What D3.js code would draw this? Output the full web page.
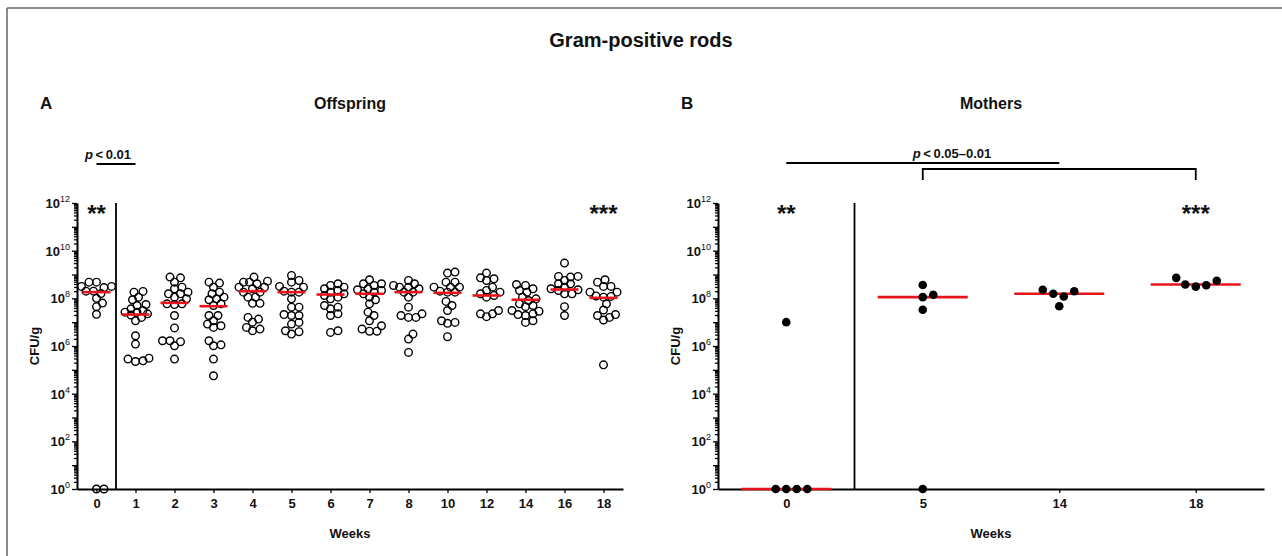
<!DOCTYPE html>
<html>
<head>
<meta charset="utf-8">
<script src="https://cdn.jsdelivr.net/npm/d3@7"></script>
<style>
  body { margin: 0; background: #fff; }
  svg { display: block; font-family: "Liberation Sans", Arial, sans-serif; }
  .axis path, .axis line { stroke: #000; }
  .axis path { stroke-width: 2; }
  .axis line { stroke-width: 1.3; }
  .axis text { font-size: 13px; font-weight: bold; fill: #111; }
  .lbl { font-weight: bold; fill: #111; }
</style>
</head>
<body>
<div id="chart"></div>
<script>
var w = 1282;
var h = 556;

// log10(CFU/g), 0 = no growth (plotted on the axis)
var weeksA = ["0", "1", "2", "3", "4", "5", "6", "7", "8", "10", "12", "14", "16", "18"];
var offspring = [
    [8.68, 8.68, 8.5, 8.5, 8.45, 8.3, 8.3, 8.2, 8.0, 7.8, 7.65, 7.33, 0, 0],
    [8.29, 8.26, 8.05, 7.94, 7.74, 7.7, 7.56, 7.49, 7.42, 7.42, 7.35, 7.3, 7.2, 7.06, 6.43, 6.08, 5.49, 5.45, 5.38, 5.35],
    [8.89, 8.86, 8.68, 8.47, 8.4, 8.26, 8.19, 8.19, 8.05, 7.98, 7.77, 7.77, 7.74, 7.28, 6.76, 6.22, 6.22, 6.18, 6.01, 5.45],
    [8.68, 8.64, 8.47, 8.26, 8.19, 8.05, 7.98, 7.94, 7.77, 7.7, 7.28, 7.28, 7.06, 6.92, 6.85, 6.78, 6.22, 6.05, 6.01, 5.45, 4.75],
    [8.89, 8.72, 8.68, 8.68, 8.61, 8.47, 8.47, 8.4, 8.26, 8.26, 8.05, 8.05, 7.79, 7.79, 7.2, 7.13, 7.0, 6.78, 6.71, 6.64],
    [8.96, 8.75, 8.68, 8.5, 8.47, 8.3, 8.26, 8.26, 7.98, 7.63, 7.63, 7.32, 7.28, 7.28, 6.99, 6.92, 6.64, 6.6, 6.5],
    [8.61, 8.54, 8.47, 8.4, 8.33, 8.26, 8.19, 8.12, 8.05, 7.98, 7.7, 7.63, 7.56, 7.35, 7.28, 6.64, 6.57],
    [8.78, 8.61, 8.61, 8.54, 8.4, 8.36, 8.33, 8.26, 8.19, 8.05, 7.94, 7.77, 7.42, 7.28, 7.06, 6.85, 6.71, 6.62, 6.62],
    [8.75, 8.61, 8.54, 8.47, 8.47, 8.4, 8.26, 8.26, 8.05, 7.63, 7.35, 7.28, 7.2, 7.2, 6.5, 6.29, 5.73],
    [9.1, 9.06, 8.68, 8.68, 8.47, 8.47, 8.47, 8.3, 8.26, 8.26, 7.87, 7.7, 7.49, 7.06, 6.99, 6.95, 6.39],
    [9.06, 8.86, 8.82, 8.75, 8.47, 8.33, 8.26, 8.19, 8.12, 8.05, 7.49, 7.35, 7.35, 7.23],
    [8.58, 8.54, 8.4, 8.33, 8.26, 8.05, 7.98, 7.91, 7.77, 7.7, 7.65, 7.49, 7.46, 7.35, 7.32, 7.28, 7.06, 6.99],
    [9.48, 8.92, 8.92, 8.89, 8.75, 8.61, 8.61, 8.47, 8.4, 8.36, 8.33, 8.19, 8.19, 7.65, 7.28],
    [8.78, 8.68, 8.5, 8.5, 8.26, 8.26, 8.1, 8.08, 8.05, 7.77, 7.51, 7.32, 7.28, 7.2, 7.09, 5.21]
];
var mediansA = [8.26, 7.32, 7.81, 7.67, 8.30, 8.26, 8.16, 8.19, 8.26, 8.23, 8.12, 7.94, 8.37, 8.02];

var weeksB = ["0", "5", "14", "18"];
var mothers = [
    [7.0, 0, 0, 0, 0],
    [8.56, 8.15, 8.05, 7.52, 0],
    [8.36, 8.3, 8.19, 8.08, 7.67],
    [8.86, 8.74, 8.58, 8.55, 8.49]
];
var mediansB = [0, 8.05, 8.19, 8.58];

var yTickExp = [0, 2, 4, 6, 8, 10, 12];

var svg = d3.select("#chart").append("svg").attr("width", w).attr("height", h);

// frame of the figure
svg.append("line").attr("x1", 7).attr("y1", 8).attr("x2", w).attr("y2", 8)
    .attr("stroke", "#666").attr("stroke-width", 1.5);
svg.append("line").attr("x1", 7).attr("y1", 8).attr("x2", 7).attr("y2", h)
    .attr("stroke", "#666").attr("stroke-width", 1.5);

svg.append("text").attr("class", "lbl").attr("x", 641).attr("y", 47)
    .attr("text-anchor", "middle").style("font-size", "20px").text("Gram-positive rods");

var yScale = d3.scaleLog().domain([1, 1e12]).range([489, 203]);

// beeswarm kept inside its column: nearest free spot, else the least crowded one
function swarm(vals, cx, dist, maxOff) {
    var pts = vals.map(function (v) { return { v: v, y: yScale(Math.pow(10, v)) }; });
    pts.sort(function (a, b) { return b.y - a.y; });
    var offs = [0];
    for (var k = 1; k * 1.5 <= maxOff; k++) offs.push(k * 1.5, -k * 1.5);
    var placed = [];
    pts.forEach(function (p) {
        var best = null, bestD = -1;
        for (var j = 0; j < offs.length; j++) {
            var x = cx + offs[j];
            var dmin = Infinity;
            placed.forEach(function (q) {
                var dx = q.x - x, dy = q.y - p.y;
                dmin = Math.min(dmin, Math.sqrt(dx * dx + dy * dy));
            });
            if (dmin >= dist) { best = x; break; }
            if (dmin > bestD) { bestD = dmin; best = x; }
        }
        p.x = best;
        placed.push(p);
    });
    return placed;
}

function panel(opt) {
    var g = svg.append("g");
    var xScale = d3.scalePoint().domain(opt.weeks).range([opt.x0, opt.x1]).padding(0.5);

    // minor log ticks
    var minor = [];
    for (var d = 0; d < 12; d++) {
        for (var k = 2; k <= 9; k++) minor.push(k * Math.pow(10, d));
    }
    g.append("g").attr("class", "axis").attr("transform", "translate(" + opt.x0 + ",0)")
        .call(d3.axisLeft(yScale).tickValues(minor).tickSize(3).tickSizeOuter(0).tickFormat(""))
        .call(function (s) { s.select(".domain").remove(); s.selectAll("line").attr("stroke-width", 1); });

    var yAxis = d3.axisLeft(yScale)
        .tickValues(d3.range(0, 13).map(function (e) { return Math.pow(10, e); }))
        .tickSize(5).tickSizeOuter(0).tickFormat("");
    var ya = g.append("g").attr("class", "axis").attr("transform", "translate(" + opt.x0 + ",0)").call(yAxis);

    yTickExp.forEach(function (e) {
        var t = ya.append("text").attr("x", -7).attr("y", yScale(Math.pow(10, e)) + 5)
            .attr("text-anchor", "end").attr("fill", "#111");
        t.append("tspan").text("10");
        t.append("tspan").attr("dy", -6).style("font-size", "9px").style("font-weight", "normal").text(e);
    });

    g.append("g").attr("class", "axis").attr("transform", "translate(0,489)")
        .call(d3.axisBottom(xScale).tickSize(4).tickSizeOuter(0).tickPadding(6));

    // separator between week 0 and the rest
    var sepX = (xScale(opt.weeks[0]) + xScale(opt.weeks[1])) / 2;
    g.append("line").attr("x1", sepX).attr("x2", sepX).attr("y1", 203).attr("y2", 489)
        .attr("stroke", "#000").attr("stroke-width", 1.8);

    var medLine = function (sel) {
        sel.selectAll(".med").data(opt.medians).join("line").attr("class", "med")
            .attr("x1", function (d, i) { return xScale(opt.weeks[i]) - opt.medHalf; })
            .attr("x2", function (d, i) { return xScale(opt.weeks[i]) + opt.medHalf; })
            .attr("y1", function (d) { return yScale(Math.pow(10, d)); })
            .attr("y2", function (d) { return yScale(Math.pow(10, d)); })
            .attr("stroke", "#e8141c").attr("stroke-width", 2.6);
    };

    if (!opt.open) medLine(g.append("g"));

    opt.data.forEach(function (vals, i) {
        var pts = swarm(vals, xScale(opt.weeks[i]), opt.dist, opt.maxOff);
        g.append("g").selectAll("circle").data(pts).join("circle")
            .attr("cx", function (d) { return d.x; })
            .attr("cy", function (d) { return d.y; })
            .attr("r", opt.r)
            .attr("fill", opt.open ? "none" : "#000")
            .attr("stroke", "#000")
            .attr("stroke-width", opt.open ? 1.4 : 0);
    });

    if (opt.open) medLine(g.append("g"));

    // labels
    var mid = (opt.x0 + opt.x1) / 2;
    g.append("text").attr("class", "lbl").attr("x", mid).attr("y", 538)
        .attr("text-anchor", "middle").style("font-size", "13px").text("Weeks");
    g.append("text").attr("class", "lbl")
        .attr("transform", "translate(" + (opt.x0 - 38) + ",346) rotate(-90)")
        .attr("text-anchor", "middle").style("font-size", "13px").text("CFU/g");
    g.append("text").attr("class", "lbl").attr("x", opt.x0 - 37).attr("y", 109)
        .style("font-size", "17px").text(opt.letter);
    g.append("text").attr("class", "lbl").attr("x", mid).attr("y", 109)
        .attr("text-anchor", "middle").style("font-size", "16px").text(opt.title);

    // significance stars
    g.append("text").attr("class", "lbl").attr("x", xScale(opt.weeks[0])).attr("y", 222)
        .attr("text-anchor", "middle").style("font-size", "24px").text("**");
    g.append("text").attr("class", "lbl").attr("x", xScale(opt.weeks[opt.weeks.length - 1])).attr("y", 222)
        .attr("text-anchor", "middle").style("font-size", "24px").text("***");

    return xScale;
}

var xA = panel({ x0: 77, x1: 623, weeks: weeksA, data: offspring, medians: mediansA,
    medHalf: 14, r: 3.8, dist: 6.5, maxOff: 16, open: true, letter: "A", title: "Offspring" });
var xB = panel({ x0: 718, x1: 1264, weeks: weeksB, data: mothers, medians: mediansB,
    medHalf: 45, r: 4.3, dist: 10.5, maxOff: 40, open: false, letter: "B", title: "Mothers" });

// p-value annotations
function pText(x, y, anchor, rest) {
    var t = svg.append("text").attr("class", "lbl").attr("x", x).attr("y", y)
        .attr("text-anchor", anchor).style("font-size", "13px");
    t.append("tspan").style("font-style", "italic").text("p");
    t.append("tspan").text("\u2009<\u2009" + rest);
}
pText(85, 159, "start", "0.01");
svg.append("line").attr("x1", xA("0")).attr("x2", xA("1")).attr("y1", 164).attr("y2", 164)
    .attr("stroke", "#000").attr("stroke-width", 1.8);

pText(952, 158, "middle", "0.05\u20130.01");
svg.append("line").attr("x1", xB("0")).attr("x2", xB("14")).attr("y1", 163).attr("y2", 163)
    .attr("stroke", "#000").attr("stroke-width", 1.8);
svg.append("path")
    .attr("d", "M" + xB("5") + ",180V169H" + xB("18") + "V180")
    .attr("fill", "none").attr("stroke", "#000").attr("stroke-width", 1.8);
</script>
</body>
</html>
